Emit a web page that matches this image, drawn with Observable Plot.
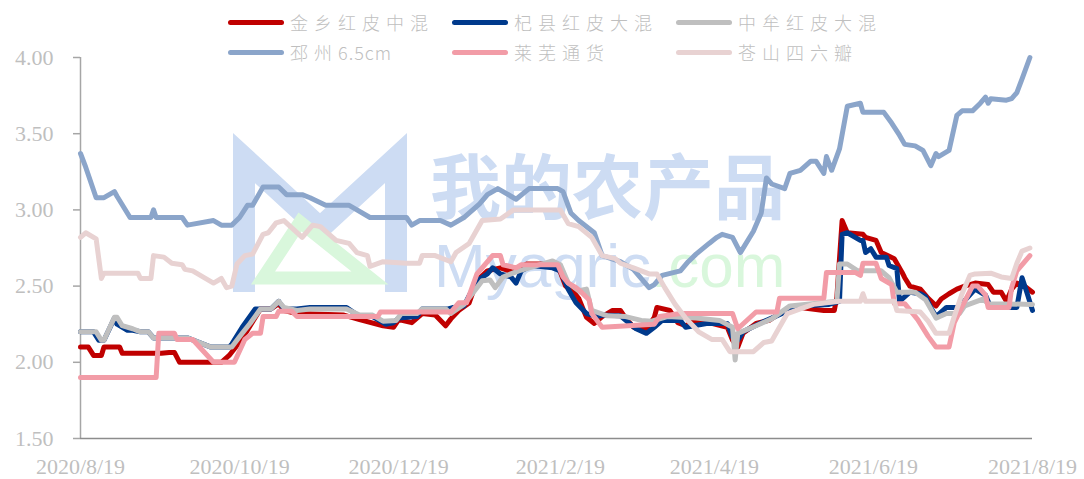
<!DOCTYPE html>
<html>
<head>
<meta charset="utf-8">
<script src="https://cdn.jsdelivr.net/npm/d3@7"></script>
<script src="https://cdn.jsdelivr.net/npm/@observablehq/plot@0.6"></script>
<style>
  body { margin: 0; background: #fff; }
  #wrap { position: relative; width: 1084px; height: 479px; overflow: hidden; background: #fff; }
  #wm { position: absolute; left: 0; top: 0; z-index: 0; }
  #chart { position: absolute; left: 0; top: 0; z-index: 1; }
  #legend { position: absolute; left: 228px; top: 7px; z-index: 2;
    display: grid; grid-template-columns: 224px 224px 224px; grid-auto-rows: 30px; }
  .item { display: flex; align-items: center; }
  .sw { width: 56px; height: 5px; border-radius: 3px; margin-right: 6px; flex: none; }
  .lab { font-family: "Noto Sans CJK SC", sans-serif; font-weight: 300; font-size: 18px;
    letter-spacing: 6px; color: #bfbfbf; white-space: nowrap; }
  .lat { letter-spacing: 1px; }
</style>
</head>
<body>
<div id="wrap">
  <svg id="wm" width="1084" height="479">
    <polyline points="244,292 244,158 320,228 396,158 396,292" fill="none" stroke="#cddcf3" stroke-width="22" stroke-linejoin="miter"/>
    <polygon points="300,222 263,278 370,278" fill="none" stroke="#d9f7dc" stroke-width="13"/>
    <text x="430" y="213" font-family="Noto Sans CJK SC" font-weight="700" font-size="71" fill="#cddcf3">我的农产品</text>
    <text x="434" y="287" font-family="Liberation Sans, Arial, sans-serif" font-size="62" fill="#cddcf3">Myagric<tspan fill="#d9f7dc">.com</tspan></text>
  </svg>
  <div id="chart"></div>
  <div id="legend"></div>
</div>
<script>
const seriesNames = ["金乡红皮中混", "杞县红皮大混", "中牟红皮大混", "邳州6.5cm", "莱芜通货", "苍山四六瓣"];
const seriesColors = ["#C00000", "#003A8C", "#BFBFBF", "#8BA5CA", "#F29CA7", "#E8D2D2"];
const yTicks = [1.5, 2.0, 2.5, 3.0, 3.5, 4.0];
const xTickLabels = ["2020-08-19", "2020-10-19", "2020-12-19", "2021-02-19", "2021-04-19", "2021-06-19", "2021-08-19"];

const jinxiang = [
["2020-08-19",2.10],["2020-08-22",2.10],["2020-08-24",2.045],["2020-08-27",2.045],["2020-08-28",2.10],
["2020-09-03",2.10],["2020-09-04",2.06],["2020-09-19",2.06],["2020-09-22",2.065],["2020-09-24",2.065],
["2020-09-26",2.00],["2020-10-12",2.00],["2020-10-15",2.045],["2020-10-18",2.11],["2020-10-22",2.21],
["2020-10-27",2.35],["2020-10-31",2.35],["2020-11-03",2.385],["2020-11-05",2.34],["2020-11-10",2.32],
["2020-11-28",2.31],["2020-12-04",2.28],["2020-12-13",2.24],["2020-12-17",2.23],["2020-12-19",2.28],
["2020-12-24",2.26],["2020-12-28",2.32],["2021-01-02",2.31],["2021-01-06",2.24],["2021-01-08",2.285],
["2021-01-11",2.34],["2021-01-15",2.39],["2021-01-18",2.535],["2021-01-22",2.60],["2021-01-27",2.62],
["2021-02-01",2.59],["2021-02-06",2.645],["2021-02-17",2.645],["2021-02-19",2.59],["2021-02-21",2.50],
["2021-02-24",2.46],["2021-02-26",2.42],["2021-03-01",2.295],["2021-03-04",2.255],["2021-03-07",2.30],
["2021-03-11",2.34],["2021-03-14",2.34],["2021-03-16",2.29],["2021-03-19",2.23],["2021-03-24",2.22],
["2021-03-27",2.295],["2021-03-28",2.36],["2021-04-02",2.34],["2021-04-05",2.26],["2021-04-08",2.24],
["2021-04-12",2.275],["2021-04-18",2.255],["2021-04-24",2.23],["2021-04-26",2.145],["2021-04-28",2.10],
["2021-04-30",2.19],["2021-05-05",2.255],["2021-05-10",2.275],["2021-05-15",2.33],["2021-05-22",2.36],
["2021-05-31",2.34],["2021-06-04",2.34],["2021-06-05",2.43],["2021-06-07",2.93],["2021-06-09",2.85],
["2021-06-15",2.84],["2021-06-16",2.82],["2021-06-20",2.80],["2021-06-22",2.72],["2021-06-27",2.68],
["2021-06-30",2.59],["2021-07-01",2.555],["2021-07-03",2.50],["2021-07-07",2.48],["2021-07-10",2.42],
["2021-07-13",2.37],["2021-07-15",2.415],["2021-07-18",2.45],["2021-07-21",2.48],["2021-07-24",2.50],
["2021-07-28",2.52],["2021-08-02",2.51],["2021-08-04",2.46],["2021-08-07",2.46],["2021-08-09",2.40],
["2021-08-11",2.48],["2021-08-13",2.52],["2021-08-16",2.50],["2021-08-19",2.46]
];

const qixian = [
["2020-08-19",2.20],["2020-08-24",2.20],["2020-08-26",2.145],["2020-08-28",2.145],["2020-09-01",2.29],
["2020-09-02",2.25],["2020-09-06",2.21],["2020-09-08",2.21],["2020-09-11",2.20],["2020-09-14",2.20],
["2020-09-16",2.16],["2020-09-29",2.16],["2020-10-08",2.10],["2020-10-15",2.10],["2020-10-16",2.12],
["2020-10-20",2.23],["2020-10-25",2.35],["2020-10-31",2.35],["2020-11-03",2.40],["2020-11-05",2.35],
["2020-11-10",2.35],["2020-11-15",2.36],["2020-11-29",2.36],["2020-12-04",2.30],["2020-12-09",2.30],
["2020-12-14",2.25],["2020-12-17",2.26],["2020-12-19",2.29],["2020-12-26",2.30],["2020-12-28",2.35],
["2021-01-07",2.35],["2021-01-09",2.36],["2021-01-13",2.37],["2021-01-18",2.535],["2021-01-22",2.58],
["2021-01-24",2.62],["2021-01-27",2.58],["2021-01-31",2.56],["2021-02-02",2.52],["2021-02-04",2.60],
["2021-02-08",2.635],["2021-02-16",2.62],["2021-02-19",2.60],["2021-02-22",2.48],["2021-02-25",2.39],
["2021-03-01",2.32],["2021-03-05",2.30],["2021-03-07",2.31],["2021-03-14",2.305],["2021-03-20",2.22],
["2021-03-24",2.19],["2021-03-27",2.23],["2021-03-30",2.275],["2021-04-06",2.275],["2021-04-08",2.23],
["2021-04-16",2.255],["2021-04-24",2.255],["2021-04-26",2.165],["2021-04-28",2.145],["2021-04-30",2.20],
["2021-05-07",2.26],["2021-05-15",2.32],["2021-05-22",2.37],["2021-06-02",2.38],["2021-06-06",2.40],
["2021-06-07",2.84],["2021-06-09",2.85],["2021-06-14",2.80],["2021-06-15",2.80],["2021-06-16",2.72],
["2021-06-18",2.745],["2021-06-20",2.69],["2021-06-24",2.69],["2021-06-25",2.635],["2021-06-28",2.615],
["2021-06-29",2.40],["2021-07-03",2.46],["2021-07-07",2.45],["2021-07-09",2.43],["2021-07-11",2.36],
["2021-07-13",2.30],["2021-07-17",2.36],["2021-07-21",2.36],["2021-07-24",2.405],["2021-07-28",2.48],
["2021-08-01",2.44],["2021-08-03",2.36],["2021-08-13",2.36],["2021-08-15",2.555],["2021-08-17",2.45],
["2021-08-19",2.34]
];

const zhongmou = [
["2020-08-19",2.20],["2020-08-25",2.20],["2020-08-27",2.145],["2020-08-28",2.145],["2020-09-01",2.295],
["2020-09-02",2.295],["2020-09-04",2.24],["2020-09-08",2.22],["2020-09-11",2.20],["2020-09-14",2.20],
["2020-09-16",2.16],["2020-09-29",2.16],["2020-10-08",2.10],["2020-10-16",2.10],["2020-10-20",2.19],
["2020-10-23",2.255],["2020-10-27",2.35],["2020-10-31",2.35],["2020-11-03",2.40],["2020-11-05",2.36],
["2020-11-10",2.34],["2020-11-15",2.35],["2020-11-29",2.35],["2020-12-04",2.31],["2020-12-09",2.31],
["2020-12-13",2.27],["2020-12-18",2.275],["2020-12-20",2.32],["2020-12-26",2.32],["2020-12-28",2.35],
["2021-01-06",2.35],["2021-01-08",2.32],["2021-01-13",2.38],["2021-01-18",2.49],["2021-01-20",2.535],
["2021-01-23",2.54],["2021-01-25",2.49],["2021-01-28",2.56],["2021-02-03",2.60],["2021-02-07",2.62],
["2021-02-16",2.665],["2021-02-19",2.64],["2021-02-22",2.52],["2021-02-26",2.47],["2021-03-01",2.48],
["2021-03-03",2.34],["2021-03-09",2.305],["2021-03-16",2.30],["2021-03-22",2.275],["2021-03-26",2.27],
["2021-04-01",2.30],["2021-04-12",2.29],["2021-04-21",2.275],["2021-04-26",2.23],["2021-04-27",2.015],
["2021-04-28",2.19],["2021-05-05",2.24],["2021-05-11",2.285],["2021-05-18",2.37],["2021-06-05",2.40],
["2021-06-06",2.645],["2021-06-09",2.645],["2021-06-13",2.60],["2021-06-22",2.60],["2021-06-25",2.555],
["2021-06-28",2.46],["2021-07-05",2.46],["2021-07-09",2.41],["2021-07-13",2.29],["2021-07-17",2.32],
["2021-07-22",2.32],["2021-07-24",2.37],["2021-07-31",2.415],["2021-08-02",2.385],["2021-08-19",2.38]
];

const pizhou = [
["2020-08-19",3.37],["2020-08-21",3.28],["2020-08-25",3.08],["2020-08-28",3.08],["2020-09-01",3.12],
["2020-09-02",3.09],["2020-09-07",2.95],["2020-09-15",2.95],["2020-09-16",3.00],["2020-09-17",2.95],
["2020-09-27",2.95],["2020-09-29",2.90],["2020-10-09",2.93],["2020-10-12",2.90],["2020-10-16",2.90],
["2020-10-19",2.95],["2020-10-22",3.03],["2020-10-24",3.03],["2020-10-28",3.15],["2020-11-03",3.15],
["2020-11-06",3.10],["2020-11-12",3.10],["2020-11-15",3.08],["2020-11-21",3.03],["2020-11-30",3.03],
["2020-12-02",3.01],["2020-12-08",2.95],["2020-12-22",2.95],["2020-12-24",2.90],["2020-12-27",2.93],
["2021-01-04",2.93],["2021-01-08",2.90],["2021-01-13",2.95],["2021-01-19",3.04],["2021-01-22",3.10],
["2021-01-26",3.14],["2021-01-29",3.11],["2021-02-02",3.07],["2021-02-07",3.14],["2021-02-18",3.14],
["2021-02-20",3.12],["2021-02-23",2.98],["2021-02-26",2.93],["2021-03-04",2.85],["2021-03-07",2.70],
["2021-03-14",2.66],["2021-03-19",2.61],["2021-03-23",2.53],["2021-03-25",2.49],["2021-03-27",2.51],
["2021-03-30",2.57],["2021-04-06",2.60],["2021-04-09",2.66],["2021-04-12",2.71],["2021-04-17",2.78],
["2021-04-20",2.82],["2021-04-22",2.84],["2021-04-26",2.82],["2021-04-29",2.72],["2021-05-04",2.86],
["2021-05-07",2.98],["2021-05-09",3.21],["2021-05-11",3.17],["2021-05-16",3.14],["2021-05-18",3.24],
["2021-05-22",3.26],["2021-05-26",3.32],["2021-05-28",3.32],["2021-05-31",3.24],["2021-06-01",3.35],
["2021-06-03",3.26],["2021-06-06",3.40],["2021-06-09",3.68],["2021-06-14",3.70],["2021-06-15",3.64],
["2021-06-23",3.64],["2021-06-26",3.57],["2021-06-29",3.49],["2021-07-01",3.43],["2021-07-05",3.42],
["2021-07-08",3.39],["2021-07-11",3.29],["2021-07-13",3.37],["2021-07-14",3.35],["2021-07-18",3.39],
["2021-07-21",3.62],["2021-07-23",3.65],["2021-07-27",3.65],["2021-07-30",3.70],["2021-08-01",3.74],
["2021-08-02",3.70],["2021-08-03",3.73],["2021-08-09",3.72],["2021-08-11",3.73],["2021-08-13",3.77],
["2021-08-15",3.86],["2021-08-18",4.00]
];

const laiwu = [
["2020-08-19",1.90],["2020-09-17",1.90],["2020-09-18",2.19],["2020-09-24",2.19],["2020-09-25",2.15],
["2020-10-01",2.15],["2020-10-09",2.00],["2020-10-17",2.00],["2020-10-21",2.15],["2020-10-24",2.19],
["2020-10-27",2.19],["2020-10-28",2.30],["2020-11-02",2.30],["2020-11-03",2.335],["2020-11-08",2.335],
["2020-11-10",2.30],["2020-12-11",2.30],["2020-12-12",2.33],["2021-01-08",2.33],["2021-01-11",2.39],
["2021-01-14",2.39],["2021-01-18",2.58],["2021-01-20",2.62],["2021-01-24",2.70],["2021-01-27",2.70],
["2021-01-28",2.64],["2021-02-02",2.62],["2021-02-04",2.64],["2021-02-18",2.64],["2021-02-20",2.56],
["2021-02-22",2.52],["2021-02-25",2.49],["2021-02-27",2.46],["2021-03-02",2.41],["2021-03-03",2.32],
["2021-03-07",2.23],["2021-03-27",2.25],["2021-03-29",2.30],["2021-04-06",2.32],["2021-04-26",2.32],
["2021-04-28",2.22],["2021-05-05",2.33],["2021-05-13",2.33],["2021-05-14",2.42],["2021-05-31",2.42],
["2021-06-01",2.59],["2021-06-12",2.59],["2021-06-14",2.57],["2021-06-15",2.65],["2021-06-20",2.65],
["2021-06-22",2.55],["2021-06-26",2.51],["2021-06-27",2.385],["2021-07-01",2.385],["2021-07-06",2.28],
["2021-07-10",2.17],["2021-07-13",2.10],["2021-07-18",2.10],["2021-07-20",2.26],["2021-07-24",2.40],
["2021-07-27",2.50],["2021-07-29",2.50],["2021-08-01",2.44],["2021-08-02",2.36],["2021-08-10",2.36],
["2021-08-11",2.49],["2021-08-13",2.60],["2021-08-18",2.70]
];

const cangshan = [
["2020-08-19",2.82],["2020-08-21",2.85],["2020-08-25",2.81],["2020-08-26",2.68],["2020-08-27",2.55],
["2020-08-28",2.585],["2020-09-10",2.585],["2020-09-11",2.55],["2020-09-15",2.55],["2020-09-16",2.70],
["2020-09-20",2.69],["2020-09-23",2.65],["2020-09-27",2.64],["2020-09-28",2.61],["2020-10-01",2.60],
["2020-10-09",2.52],["2020-10-12",2.55],["2020-10-14",2.49],["2020-10-16",2.50],["2020-10-18",2.645],
["2020-10-21",2.70],["2020-10-24",2.71],["2020-10-28",2.84],["2020-10-30",2.85],["2020-11-02",2.915],
["2020-11-05",2.93],["2020-11-12",2.82],["2020-11-16",2.90],["2020-11-19",2.89],["2020-11-23",2.83],
["2020-11-25",2.80],["2020-11-30",2.78],["2020-12-03",2.72],["2020-12-07",2.70],["2020-12-08",2.63],
["2020-12-13",2.66],["2020-12-22",2.65],["2020-12-27",2.65],["2020-12-28",2.70],["2021-01-02",2.70],
["2021-01-08",2.66],["2021-01-10",2.72],["2021-01-15",2.78],["2021-01-20",2.93],["2021-01-27",2.94],
["2021-02-01",3.00],["2021-02-19",3.00],["2021-02-22",2.91],["2021-02-26",2.89],["2021-03-03",2.82],
["2021-03-07",2.70],["2021-03-12",2.68],["2021-03-14",2.65],["2021-03-19",2.62],["2021-03-25",2.58],
["2021-03-28",2.58],["2021-03-31",2.49],["2021-04-04",2.38],["2021-04-08",2.29],["2021-04-13",2.20],
["2021-04-18",2.15],["2021-04-22",2.15],["2021-04-25",2.07],["2021-05-04",2.07],["2021-05-08",2.13],
["2021-05-11",2.14],["2021-05-13",2.20],["2021-05-17",2.32],["2021-05-22",2.35],["2021-05-27",2.38],
["2021-06-06",2.40],["2021-06-14",2.40],["2021-06-15",2.45],["2021-06-16",2.40],["2021-06-27",2.40],
["2021-06-28",2.34],["2021-07-07",2.33],["2021-07-10",2.27],["2021-07-13",2.19],["2021-07-18",2.19],
["2021-07-20",2.30],["2021-07-23",2.45],["2021-07-26",2.57],["2021-07-28",2.58],["2021-08-03",2.585],
["2021-08-07",2.56],["2021-08-11",2.55],["2021-08-13",2.65],["2021-08-15",2.73],["2021-08-18",2.75]
];

const seriesData = [jinxiang, qixian, zhongmou, pizhou, laiwu, cangshan];

const parse = d3.utcParse("%Y-%m-%d");
const rows = [];
seriesNames.forEach((name, i) => {
  seriesData[i].forEach(([d, v]) => rows.push({series: name, date: parse(d), value: v}));
});
const xTicks = xTickLabels.map(parse);
const xStart = xTicks[0], xEnd = xTicks[xTicks.length - 1];
const fmtDate = d => `${d.getUTCFullYear()}/${d.getUTCMonth() + 1}/${d.getUTCDate()}`;

const chart = Plot.plot({
  width: 1084,
  height: 479,
  marginLeft: 80,
  marginRight: 52,
  marginTop: 57,
  marginBottom: 41,
  style: {background: "transparent", fontFamily: "'Liberation Serif', 'Times New Roman', serif", fontSize: "22px", color: "#bfbfbf"},
  x: {type: "utc", domain: [xStart, xEnd]},
  y: {domain: [1.5, 4.0]},
  color: {domain: seriesNames, range: seriesColors},
  marks: [
    Plot.axisY({ticks: yTicks, tickSize: 7, tickPadding: 20, tickFormat: d3.format(".2f"), label: null, stroke: "#a6a6a6", strokeWidth: 1.5}),
    Plot.axisX({ticks: xTicks, tickSize: 0, tickPadding: 20, tickFormat: fmtDate, label: null}),
    Plot.ruleX([xStart], {stroke: "#a6a6a6", strokeWidth: 1.5}),
    Plot.ruleY([1.5], {stroke: "#8c8c8c", strokeWidth: 1.5}),
    Plot.lineY(rows, {x: "date", y: "value", z: "series", stroke: "series", strokeWidth: 5, strokeLinejoin: "round", strokeLinecap: "round"})
  ]
});
document.getElementById("chart").appendChild(chart);

const legend = document.getElementById("legend");
seriesNames.forEach((name, i) => {
  const item = document.createElement("div");
  item.className = "item";
  const sw = document.createElement("span");
  sw.className = "sw";
  sw.style.background = seriesColors[i];
  const lab = document.createElement("span");
  lab.className = "lab";
  // CJK characters are widely spaced; Latin runs are kept tight
  name.split(/([0-9A-Za-z.]+)/).filter(s => s).forEach(part => {
    const s = document.createElement("span");
    if (/^[0-9A-Za-z.]+$/.test(part)) s.className = "lat";
    s.textContent = part;
    lab.appendChild(s);
  });
  item.appendChild(sw);
  item.appendChild(lab);
  legend.appendChild(item);
});
</script>
</body>
</html>
